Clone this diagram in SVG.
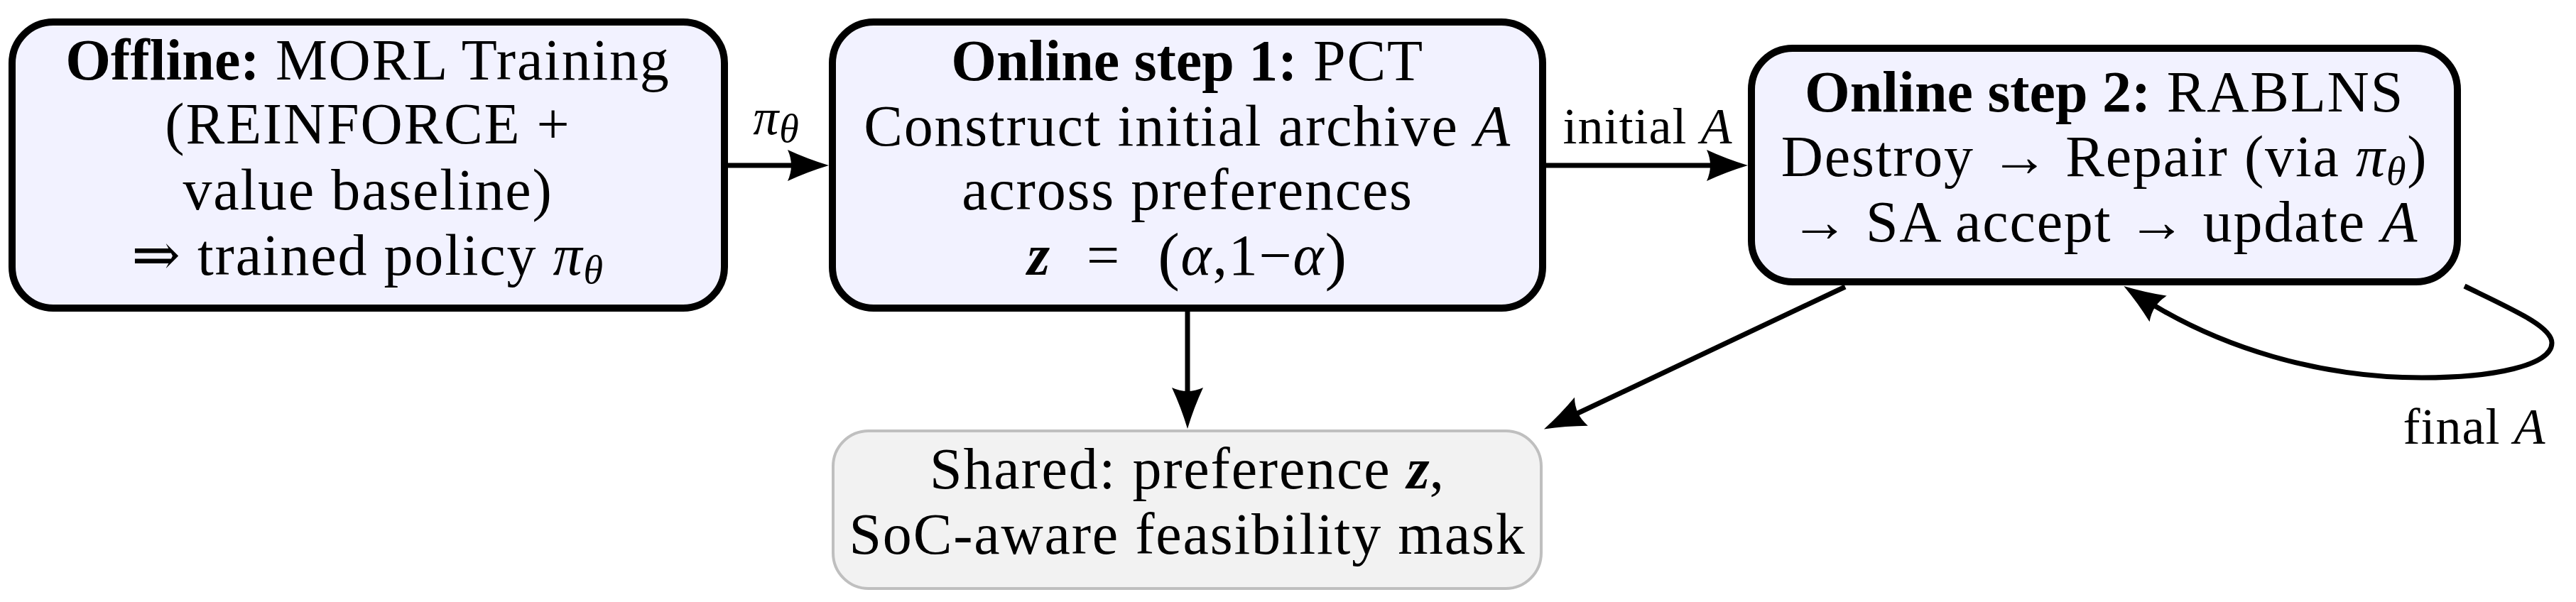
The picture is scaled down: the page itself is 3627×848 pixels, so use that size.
<svg xmlns="http://www.w3.org/2000/svg" width="3627" height="848" viewBox="0 0 3627 848">
<style>
.box{fill:#f2f2ff;stroke:#000;stroke-width:10}
.shared{fill:#f2f2f2;stroke:#bfbfbf;stroke-width:4}
.t{font-family:"Liberation Serif","DejaVu Serif",serif;font-size:82px;letter-spacing:1.8px;fill:#000;text-anchor:middle}
.lbl{font-family:"Liberation Serif","DejaVu Serif",serif;font-size:72px;letter-spacing:1px;fill:#000;text-anchor:middle}
.b{font-weight:bold;letter-spacing:0}
.i{font-style:italic}
.sub{font-style:italic;font-size:56px}
.par{font-size:92px}
.edge{fill:none;stroke:#000;stroke-width:7}
</style>
<defs>
<marker id="ah" viewBox="-62 -24 64 48" refX="-20" refY="0" markerWidth="64" markerHeight="48" markerUnits="userSpaceOnUse" orient="auto">
<path d="M0,0 Q-30,-9 -58,-22 Q-48,0 -58,22 Q-30,9 0,0 Z" fill="#000"/>
</marker>
</defs>
<g id="connectors">
<path class="edge" d="M1025,233 H1147" marker-end="url(#ah)"/>
<path class="edge" d="M2177,233 H2441" marker-end="url(#ah)"/>
<path class="edge" d="M1672,439 V584" marker-end="url(#ah)"/>
<path class="edge" d="M2598,404 L2192,596" marker-end="url(#ah)"/>
<path class="edge" d="M3470,403 C3540,437 3593,460 3593,483 C3593,515 3510,532 3410,532 C3270,532 3125,492 3007,414" marker-end="url(#ah)"/>
<text class="lbl" x="1093" y="189"><tspan class="i">π</tspan><tspan class="sub" dy="11">θ</tspan></text>
<text class="lbl" x="2320" y="202">initial <tspan class="i">A</tspan></text>
<text class="lbl" x="3484" y="625">final <tspan class="i">A</tspan></text>
</g>
<g id="offline">
<rect class="box" x="17" y="31" width="1003" height="403" rx="58" ry="58"/>
<text class="t" x="518" y="112"><tspan class="b">Offline:</tspan> MORL Training</text>
<text class="t" x="518" y="202">(REINFORCE +</text>
<text class="t" x="518" y="295">value baseline)</text>
<text class="t" x="518" y="387">⇒ trained policy <tspan class="i">π</tspan><tspan class="sub" dy="12">θ</tspan></text>
</g>
<g id="step1">
<rect class="box" x="1172" y="31" width="1000" height="403" rx="58" ry="58"/>
<text class="t" x="1672" y="113"><tspan class="b">Online step 1:</tspan> PCT</text>
<text class="t" x="1672" y="205">Construct initial archive <tspan class="i">A</tspan></text>
<text class="t" x="1672" y="295">across preferences</text>
<text class="t" x="1672" y="387"><tspan class="b i">z</tspan><tspan dx="52">=</tspan><tspan class="par" dx="52" dy="4">(</tspan><tspan class="i" dy="-4">α</tspan>,1−<tspan class="i">α</tspan><tspan class="par" dy="4">)</tspan></text>
</g>
<g id="step2">
<rect class="box" x="2466" y="68" width="994" height="329" rx="58" ry="58"/>
<text class="t" x="2963" y="157"><tspan class="b">Online step 2:</tspan> RABLNS</text>
<text class="t" x="2963" y="248">Destroy → Repair (via <tspan class="i">π</tspan><tspan class="sub" dy="12">θ</tspan><tspan dy="-12">)</tspan></text>
<text class="t" x="2963" y="340">→ SA accept → update <tspan class="i">A</tspan></text>
</g>
<g id="shared">
<rect class="shared" x="1173" y="607" width="997" height="222" rx="50" ry="50"/>
<text class="t" x="1672" y="688">Shared: preference <tspan class="b i">z</tspan>,</text>
<text class="t" x="1672" y="780">SoC-aware feasibility mask</text>
</g>
</svg>
